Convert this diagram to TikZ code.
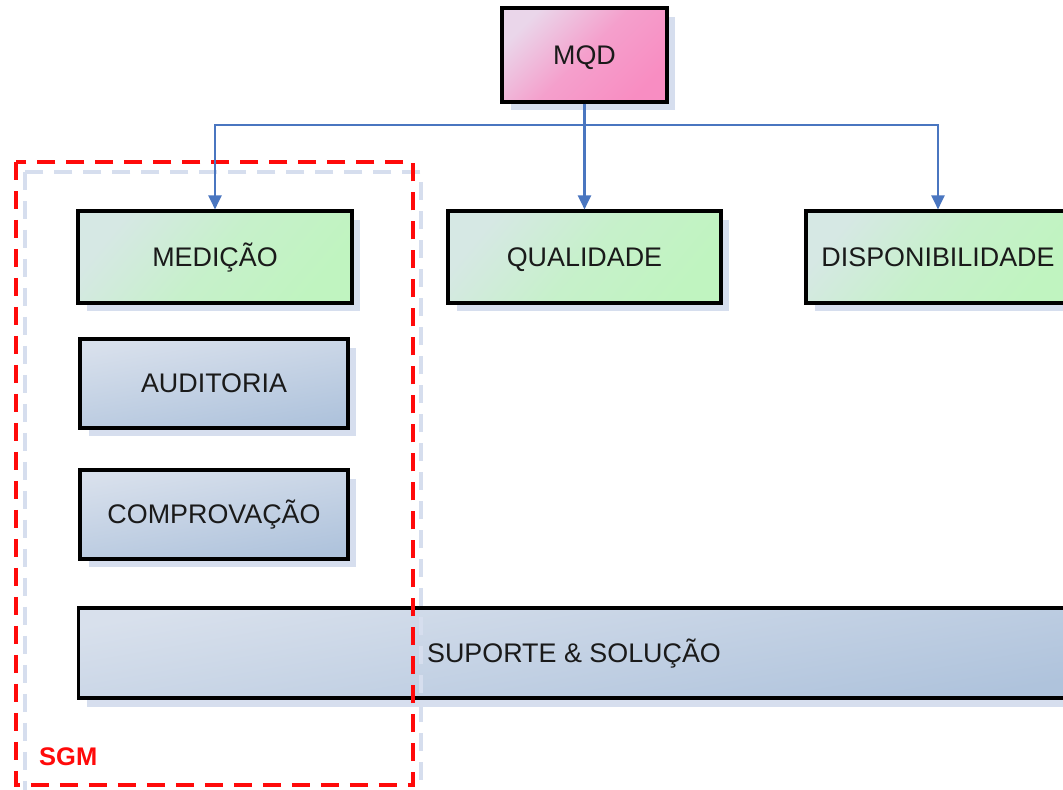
\documentclass[tikz,border=0pt]{standalone}
\usepackage{fontspec}
\setmainfont{Liberation Sans}
\usetikzlibrary{arrows.meta,shadows}
\definecolor{shad}{HTML}{D6DEEE}
\definecolor{conncol}{HTML}{4A76C0}
\definecolor{sgmred}{HTML}{FF0A0A}
\definecolor{greenA}{HTML}{D6E8E4}
\definecolor{greenB}{HTML}{C0F4C0}
\definecolor{blueA}{HTML}{D8E0EC}
\definecolor{blueB}{HTML}{AFC3DC}
\definecolor{pinkA}{HTML}{EAD6EA}
\definecolor{pinkB}{HTML}{F88DC2}
\definecolor{txt}{HTML}{1A1A1A}
\begin{document}
\begin{tikzpicture}[x=0.02cm,y=-0.02cm,
  boxbase/.style={draw=black, line width=1.8pt, rectangle, inner sep=0pt,
    text=txt, font=\fontsize{15.3}{18}\selectfont, text height=10.8pt, text depth=0pt,
    drop shadow={shadow xshift=0.17cm, shadow yshift=-0.17cm, fill=shad, opacity=1}},
  greenbox/.style={boxbase, top color=greenA, bottom color=greenB, middle color=greenB!70!greenA, shading angle=50},
  bluebox/.style={boxbase, top color=blueA, bottom color=blueB, shading angle=10},
  pinkbox/.style={boxbase, top color=pinkA, bottom color=pinkB, middle color=pinkB!75!pinkA, shading angle=45},
  conn/.style={draw=conncol, line width=1.2pt, -{Triangle[length=0.28cm,width=0.26cm]}},
  dashframe/.style={line width=2.3pt, dash pattern=on 0.36cm off 0.22cm}
]
\clip (0,0) rectangle (1063,789);
\fill[white] (0,0) rectangle (1063,789);

\node[pinkbox, minimum width=3.3cm, minimum height=1.88cm] (mqd) at (584.5,55) {MQD};
\node[greenbox, minimum width=5.48cm, minimum height=1.84cm] (med) at (215,257) {MEDIÇÃO};
\node[greenbox, minimum width=5.46cm, minimum height=1.84cm] (qual) at (584.5,257) {QUALIDADE};
\node[greenbox, minimum width=5.28cm, minimum height=1.84cm] (disp) at (938,257) {DISPONIBILIDADE};
\node[bluebox, minimum width=5.36cm, minimum height=1.78cm] (aud) at (214,383.5) {AUDITORIA};
\node[bluebox, minimum width=5.36cm, minimum height=1.78cm] (comp) at (214,514.5) {COMPROVAÇÃO};
\node[bluebox, minimum width=19.84cm, minimum height=1.8cm] (sup) at (574,653) {SUPORTE \& SOLUÇÃO};

% SGM dashed frame (shadow then red), drawn over the wide box
\draw[shad, dashframe] (25,172) rectangle (421,800);
\draw[sgmred, dashframe] (16,162) rectangle (413,785);

\coordinate (hub) at (584.5,125);
\draw[conncol, line width=1.2pt] (mqd.south) -- (hub);
\draw[conn] (hub) -| (med.north);
\draw[conn] (hub) -- (qual.north);
\draw[conn] (hub) -| (disp.north);

\node[anchor=west, text=sgmred, font=\bfseries\fontsize{14.5}{16}\selectfont] (sgm) at (33,757) {SGM};
\end{tikzpicture}
\end{document}
